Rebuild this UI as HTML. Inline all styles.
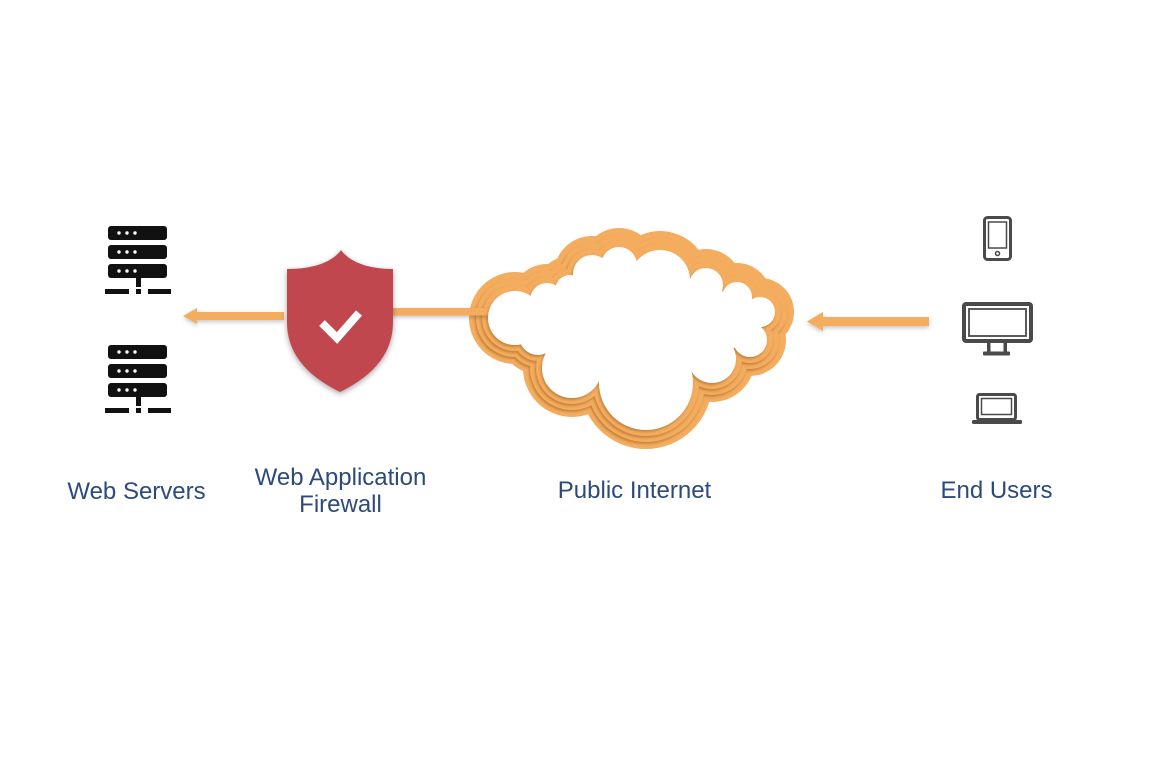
<!DOCTYPE html>
<html>
<head>
<meta charset="utf-8">
<style>
  html, body { margin:0; padding:0; background:#ffffff; }
  body { width:1167px; height:780px; overflow:hidden; }
  svg { display:block; }
  text { font-family: "Liberation Sans", Arial, sans-serif; font-size:24px; fill:#2c4a7a; }
</style>
</head>
<body>
<svg width="1167" height="780" viewBox="0 0 1167 780" xmlns="http://www.w3.org/2000/svg">
  <defs>
    <filter id="cshadow" x="-20%" y="-20%" width="140%" height="140%">
      <feDropShadow dx="-1" dy="1.8" stdDeviation="1.3" flood-color="#a0621f" flood-opacity="0.6"/>
    </filter>
    <filter id="ashadow" x="-20%" y="-100%" width="140%" height="300%">
      <feDropShadow dx="0" dy="2" stdDeviation="2" flood-color="#000" flood-opacity="0.22"/>
    </filter>
    <filter id="sshadow" x="-30%" y="-30%" width="160%" height="160%">
      <feDropShadow dx="0" dy="2" stdDeviation="3" flood-color="#000" flood-opacity="0.35"/>
    </filter>
  </defs>

  <rect width="1167" height="780" fill="#ffffff"/>

  <!-- ===== Web Servers ===== -->
  <g fill="#111111">
    <rect x="108" y="226" width="59" height="14" rx="3"/>
    <rect x="108" y="245" width="59" height="14" rx="3"/>
    <rect x="108" y="264" width="59" height="14" rx="3"/>
    <rect x="136" y="277" width="5" height="10"/>
    <rect x="105" y="289" width="24" height="5"/>
    <rect x="136" y="289" width="5" height="5"/>
    <rect x="148" y="289" width="23" height="5"/>
    <rect x="108" y="345" width="59" height="14" rx="3"/>
    <rect x="108" y="364" width="59" height="14" rx="3"/>
    <rect x="108" y="383" width="59" height="14" rx="3"/>
    <rect x="136" y="396" width="5" height="10"/>
    <rect x="105" y="408" width="24" height="5"/>
    <rect x="136" y="408" width="5" height="5"/>
    <rect x="148" y="408" width="23" height="5"/>
  </g>
  <g fill="#ffffff">
    <circle cx="119" cy="233" r="1.7"/><circle cx="127" cy="233" r="1.7"/><circle cx="135" cy="233" r="1.7"/>
    <circle cx="119" cy="252" r="1.7"/><circle cx="127" cy="252" r="1.7"/><circle cx="135" cy="252" r="1.7"/>
    <circle cx="119" cy="271" r="1.7"/><circle cx="127" cy="271" r="1.7"/><circle cx="135" cy="271" r="1.7"/>
    <circle cx="119" cy="352" r="1.7"/><circle cx="127" cy="352" r="1.7"/><circle cx="135" cy="352" r="1.7"/>
    <circle cx="119" cy="371" r="1.7"/><circle cx="127" cy="371" r="1.7"/><circle cx="135" cy="371" r="1.7"/>
    <circle cx="119" cy="390" r="1.7"/><circle cx="127" cy="390" r="1.7"/><circle cx="135" cy="390" r="1.7"/>
  </g>

  <!-- ===== Left arrow ===== -->
  <g fill="#f4ac5f" filter="url(#ashadow)">
    <rect x="192" y="312" width="92" height="8"/>
    <polygon points="183,316 197,308 197,324"/>
  </g>

  <!-- ===== Cloud ===== -->
  <g fill="#f4ac5f">
    <polygon points="515,318 547,300 570,290 592,274 619,265 660,280 706,285 737,297 760,312 750,340 712,359 646,383 572,368 538,336"/>
    <circle cx="515" cy="318" r="46"/><circle cx="547" cy="300" r="36"/><circle cx="570" cy="290" r="34"/>
    <circle cx="592" cy="274" r="38"/><circle cx="619" cy="265" r="37"/><circle cx="660" cy="280" r="49"/>
    <circle cx="706" cy="285" r="36"/><circle cx="737" cy="297" r="34"/><circle cx="760" cy="312" r="34"/>
    <circle cx="750" cy="340" r="36"/><circle cx="712" cy="359" r="43"/><circle cx="646" cy="383" r="66"/>
    <circle cx="572" cy="368" r="49"/><circle cx="538" cy="336" r="38"/>
  </g>
  <g fill="#f4ac5f" filter="url(#cshadow)">
    <polygon points="515,318 547,300 570,290 592,274 619,265 660,280 706,285 737,297 760,312 750,340 712,359 646,383 572,368 538,336"/>
    <circle cx="515" cy="318" r="39"/><circle cx="547" cy="300" r="29"/><circle cx="570" cy="290" r="27"/>
    <circle cx="592" cy="274" r="31"/><circle cx="619" cy="265" r="30"/><circle cx="660" cy="280" r="42"/>
    <circle cx="706" cy="285" r="29"/><circle cx="737" cy="297" r="27"/><circle cx="760" cy="312" r="27"/>
    <circle cx="750" cy="340" r="29"/><circle cx="712" cy="359" r="36"/><circle cx="646" cy="383" r="59"/>
    <circle cx="572" cy="368" r="42"/><circle cx="538" cy="336" r="31"/>
  </g>
  <g fill="#f4ac5f" filter="url(#cshadow)">
    <polygon points="515,318 547,300 570,290 592,274 619,265 660,280 706,285 737,297 760,312 750,340 712,359 646,383 572,368 538,336"/>
    <circle cx="515" cy="318" r="33"/><circle cx="547" cy="300" r="23"/><circle cx="570" cy="290" r="21"/>
    <circle cx="592" cy="274" r="25"/><circle cx="619" cy="265" r="24"/><circle cx="660" cy="280" r="36"/>
    <circle cx="706" cy="285" r="23"/><circle cx="737" cy="297" r="21"/><circle cx="760" cy="312" r="21"/>
    <circle cx="750" cy="340" r="23"/><circle cx="712" cy="359" r="30"/><circle cx="646" cy="383" r="53"/>
    <circle cx="572" cy="368" r="36"/><circle cx="538" cy="336" r="25"/>
  </g>

  <!-- connector WAF -> cloud -->
  <rect x="385" y="308" width="116" height="7.5" fill="#f4ac5f" filter="url(#ashadow)"/>

  <g fill="#ffffff" filter="url(#cshadow)">
    <polygon points="515,318 547,300 570,290 592,274 619,265 660,280 706,285 737,297 760,312 750,340 712,359 646,383 572,368 538,336"/>
    <circle cx="515" cy="318" r="27"/><circle cx="547" cy="300" r="17"/><circle cx="570" cy="290" r="15"/>
    <circle cx="592" cy="274" r="19"/><circle cx="619" cy="265" r="18"/><circle cx="660" cy="280" r="30"/>
    <circle cx="706" cy="285" r="17"/><circle cx="737" cy="297" r="15"/><circle cx="760" cy="312" r="15"/>
    <circle cx="750" cy="340" r="17"/><circle cx="712" cy="359" r="24"/><circle cx="646" cy="383" r="47"/>
    <circle cx="572" cy="368" r="30"/><circle cx="538" cy="336" r="19"/>
  </g>

  <!-- ===== Shield (WAF) ===== -->
  <path d="M341,250 C333,261 316,269 287,269 L287,322 C287,356 310,377 340,392 C370,377 393,356 393,322 L393,269 C366,269 349,261 341,250 Z"
        fill="#c1474f" filter="url(#sshadow)"/>
  <polyline points="322,323 337,338 359,313" fill="none" stroke="#ffffff" stroke-width="8" stroke-linecap="butt" stroke-linejoin="miter"/>

  <!-- ===== Right arrow ===== -->
  <g fill="#f4ac5f" filter="url(#ashadow)">
    <rect x="819" y="317" width="110" height="9"/>
    <polygon points="807,321.5 823,312 823,331"/>
  </g>

  <!-- ===== End user devices ===== -->
  <g fill="none" stroke="#4a4a4a">
    <rect x="984.5" y="217.5" width="26" height="42" rx="3" stroke-width="3"/>
    <rect x="988.5" y="222" width="18" height="26" stroke-width="1.5"/>
    <circle cx="997.5" cy="253.5" r="2" stroke-width="1.5"/>
    <rect x="964" y="304" width="67" height="37" rx="2" stroke-width="4"/>
    <rect x="969" y="309" width="57" height="27" stroke-width="1.8"/>
    <rect x="977.5" y="394.5" width="38" height="25" rx="2" stroke-width="3"/>
    <rect x="981.5" y="398.5" width="30" height="16" stroke-width="1.5"/>
  </g>
  <g fill="#4a4a4a">
    <rect x="987" y="342" width="3.5" height="10"/>
    <rect x="1003.5" y="342" width="3.5" height="10"/>
    <rect x="983" y="351.5" width="27" height="4" rx="1"/>
    <rect x="972" y="420" width="50" height="4" rx="1.5"/>
  </g>

  <!-- ===== Labels ===== -->
  <text x="136.5" y="499" text-anchor="middle">Web Servers</text>
  <text x="340.5" y="485" text-anchor="middle">Web Application</text>
  <text x="340.5" y="512" text-anchor="middle">Firewall</text>
  <text x="634.5" y="498" text-anchor="middle">Public Internet</text>
  <text x="996.5" y="498" text-anchor="middle">End Users</text>
</svg>
</body>
</html>
